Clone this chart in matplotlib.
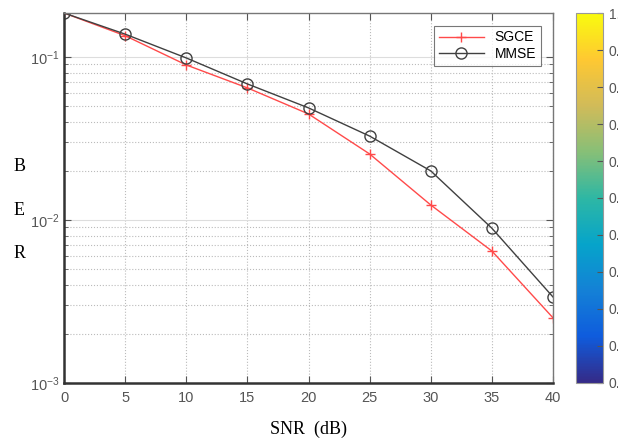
import numpy as np
import matplotlib
matplotlib.use('Agg')
import matplotlib.pyplot as plt
import matplotlib.ticker as ticker
from matplotlib.colors import LinearSegmentedColormap
from matplotlib.colorbar import ColorbarBase
from matplotlib.colors import Normalize

snr = [0, 5, 10, 15, 20, 25, 30, 35, 40]
ber_sgce = [0.186, 0.135, 0.0893, 0.0646, 0.0447, 0.0254, 0.01236, 0.00645, 0.00251]
ber_mmse = [0.186, 0.138, 0.0986, 0.0683, 0.0487, 0.0327, 0.0200, 0.0089, 0.00337]

red = '#ff4a4a'
dark = '#404040'
tick_gray = '#555555'

# parula-ish colours for the (empty) colorbar
parula = ['#352a87', '#0f5cdd', '#1481d6', '#06a4ca', '#2eb7a4',
          '#87bf77', '#d1bb59', '#fec832', '#f9fb0e']
cmap = LinearSegmentedColormap.from_list('parula_like', parula)

plt.rcParams['font.family'] = ['Liberation Sans', 'DejaVu Sans']

fig = plt.figure(figsize=(6.18, 4.47), dpi=100)
ax = fig.add_axes([0.1036, 0.1432, 0.7912, 0.8277])

ax.plot(snr, ber_sgce, color=red, marker='+', markersize=7, lw=1.0, label='SGCE')
ax.plot(snr, ber_mmse, color=dark, marker='o', markersize=8, mfc='none', lw=1.0, label='MMSE')

ax.set_yscale('log')
ax.set_xlim(0, 40)
ax.set_ylim(1e-3, 0.186)
ax.xaxis.set_major_locator(ticker.MultipleLocator(5))

ax.grid(True, which='major', axis='x', ls=':', color='#bbbbbb', lw=0.8)
ax.grid(True, which='major', axis='y', ls='-', color='#dddddd', lw=0.8)
ax.grid(True, which='minor', axis='y', ls=':', color='#bbbbbb', lw=0.8)

ax.tick_params(which='both', direction='in', top=True, right=True,
               labelsize=10.5, labelcolor=tick_gray, color='#555555')
ax.tick_params(which='major', length=5)
ax.tick_params(which='minor', length=3)
ax.tick_params(axis='x', pad=6)

for side in ['left', 'bottom']:
    ax.spines[side].set_color('#333333')
    ax.spines[side].set_linewidth(1.8)
for side in ['top', 'right']:
    ax.spines[side].set_color('#777777')
    ax.spines[side].set_linewidth(1.0)

ax.set_xlabel('SNR  (dB)', family='Liberation Serif', fontsize=13, labelpad=11)
fig.text(0.022, 0.530, 'B\n\nE\n\nR', family='Liberation Serif', fontsize=13,
         ha='left', va='center', linespacing=1.38)

leg = ax.legend(loc='upper right', bbox_to_anchor=(0.99, 0.985), fontsize=10,
                frameon=True, fancybox=False, edgecolor='#555555',
                handlelength=3.2, borderpad=0.35, labelspacing=0.2)
leg.get_frame().set_linewidth(0.8)

cax = fig.add_axes([0.932, 0.1432, 0.0437, 0.8277])
cb = ColorbarBase(cax, cmap=cmap, norm=Normalize(0, 1), orientation='vertical')
cb.set_ticks(np.arange(0, 1.01, 0.1))
cb.ax.tick_params(direction='in', length=4, labelsize=10, labelcolor=tick_gray,
                  color='#555555', pad=4)
cb.outline.set_edgecolor('#999999')
cb.outline.set_linewidth(0.8)

fig.savefig('out.png', dpi=100)
